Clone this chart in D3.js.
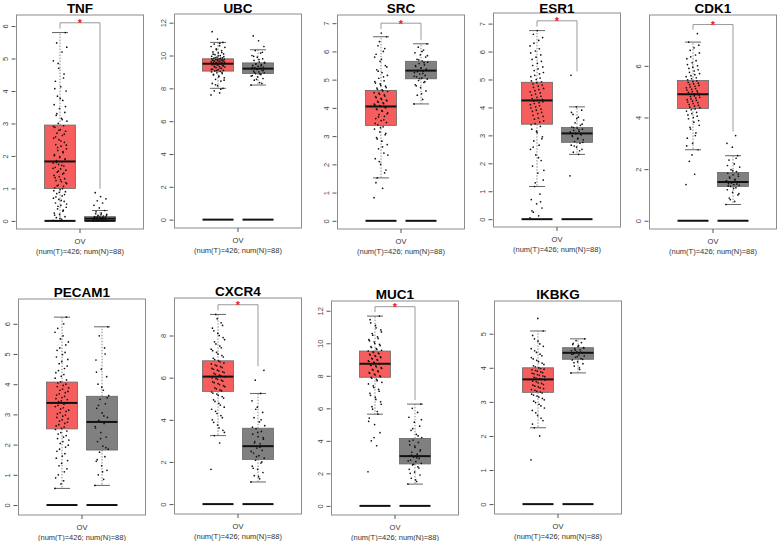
<!DOCTYPE html>
<html>
<head>
<meta charset="utf-8">
<script src="https://cdn.jsdelivr.net/npm/d3@7"></script>
<style>
  body { margin: 0; background: #fff; }
  svg { display: block; font-family: Arial, "Liberation Sans", sans-serif; }
</style>
</head>
<body>
<svg id="chart" width="778" height="541"></svg>
<script>
// --- DATA ---
const genes = ["TNF", "UBC", "SRC", "ESR1", "CDK1", "PECAM1", "CXCR4", "MUC1", "IKBKG"];
const cancer = "OV";
const sampleLabel = "(num(T)=426; num(N)=88)";

// [lower whisker, Q1, median, Q3, upper whisker]
const tumorBox = [
  [0, 1.0, 1.83, 2.95, 5.8],
  [8.0, 9.05, 9.5, 9.8, 10.8],
  [1.52, 3.38, 4.05, 4.62, 6.52],
  [1.17, 3.4, 4.25, 4.9, 6.75],
  [2.75, 4.35, 4.9, 5.43, 6.92],
  [0.55, 2.52, 3.38, 4.07, 6.22],
  [3.25, 5.35, 6.05, 6.8, 9.0],
  [5.64, 7.91, 8.74, 9.52, 11.67],
  [2.24, 3.28, 3.66, 4.0, 5.08]
];
const normalBox = [
  [0, 0.02, 0.07, 0.13, 0.32],
  [8.2, 8.9, 9.2, 9.55, 10.35],
  [4.14, 5.03, 5.32, 5.65, 6.27],
  [2.32, 2.75, 3.07, 3.28, 4.02],
  [0.63, 1.33, 1.5, 1.87, 2.52],
  [0.65, 1.82, 2.75, 3.6, 5.9],
  [1.05, 2.12, 2.75, 3.6, 5.25],
  [1.34, 2.58, 3.06, 4.15, 6.26],
  [3.85, 4.25, 4.44, 4.59, 4.85]
];

// sample values
const tumorTNF = [0.02, 0.05, 0.1, 0.13, 0.2, 0.24, 0.3, 0.37, 0.42, 0.48, 0.55, 0.6, 0.66, 0.7, 0.77, 0.84, 0.9, 0.96,
  1.02, 1.06, 1.1, 1.15, 1.21, 1.24, 1.3, 1.36, 1.4, 1.44, 1.5, 1.56, 1.6, 1.65, 1.69, 1.74, 1.78, 1.82,
  1.86, 1.91, 1.98, 2.04, 2.1, 2.17, 2.22, 2.3, 2.35, 2.42, 2.5, 2.55, 2.63, 2.7, 2.76, 2.81, 2.88, 2.93,
  3.0, 3.07, 3.16, 3.25, 3.34, 3.46, 3.58, 3.71, 3.84, 4.0, 4.13, 4.3, 4.52, 4.7, 4.93, 5.2, 5.48, 5.8,
  0.08, 0.18, 0.33, 0.45, 0.52, 0.63, 0.74, 0.81, 0.88, 0.93, 0.99, 1.08, 1.18, 1.27, 1.33, 1.47, 1.53, 1.62,
  1.71, 1.8, 1.89, 1.95, 2.01, 2.13, 2.26, 2.33, 2.46, 2.59, 2.67, 2.79, 2.91, 3.12, 3.3, 3.52, 3.77, 4.07, 4.4, 4.85, 5.35];
const normalTNF = [0.0, 0.01, 0.01, 0.02, 0.02, 0.03, 0.04, 0.05, 0.05, 0.06, 0.07, 0.07, 0.08, 0.09, 0.1, 0.11,
  0.12, 0.12, 0.13, 0.15, 0.17, 0.2, 0.24, 0.28, 0.32, 0.4, 0.48, 0.55, 0.62, 0.68, 0.75, 0.87,
  0.0, 0.01, 0.03, 0.04, 0.06, 0.08, 0.09, 0.1, 0.11, 0.14, 0.16, 0.19, 0.22];

const tumorUBC = [7.6, 7.72, 7.85, 8.0, 8.16, 8.3, 8.44, 8.55, 8.64, 8.74, 8.82, 8.9, 8.95, 9.0, 9.03, 9.06, 9.1, 9.14,
  9.18, 9.22, 9.26, 9.3, 9.33, 9.36, 9.39, 9.42, 9.45, 9.47, 9.49, 9.51, 9.53, 9.55, 9.57, 9.59, 9.61, 9.63,
  9.65, 9.67, 9.69, 9.71, 9.73, 9.75, 9.77, 9.79, 9.82, 9.86, 9.9, 9.95, 10.0, 10.05, 10.1, 10.16, 10.22, 10.3,
  10.4, 10.5, 10.6, 10.7, 10.8, 11.0, 11.45,
  7.95, 8.22, 8.5, 8.7, 8.86, 8.98, 9.08, 9.16, 9.24, 9.31, 9.37, 9.43, 9.48, 9.52, 9.56, 9.6, 9.64, 9.68,
  9.72, 9.76, 9.8, 9.84, 9.88, 9.93, 9.98, 10.08, 10.19, 10.35, 10.55, 10.75];
const normalUBC = [8.2, 8.35, 8.5, 8.6, 8.7, 8.78, 8.85, 8.9, 8.95, 9.0, 9.05, 9.1, 9.15, 9.2, 9.22, 9.26,
  9.3, 9.35, 9.4, 9.45, 9.5, 9.55, 9.6, 9.7, 9.8, 9.9, 10.0, 10.15, 10.3, 10.55, 10.9, 11.2,
  8.3, 8.55, 8.75, 8.88, 8.97, 9.08, 9.18, 9.28, 9.38, 9.48, 9.58, 9.75, 9.95, 10.2];

const tumorSRC = [0.82, 1.15, 1.52, 1.8, 2.0, 2.2, 2.4, 2.55, 2.7, 2.82, 2.95, 3.05, 3.15, 3.25, 3.33, 3.4, 3.48, 3.55,
  3.62, 3.7, 3.76, 3.82, 3.88, 3.94, 4.0, 4.05, 4.1, 4.15, 4.2, 4.25, 4.3, 4.36, 4.42, 4.48, 4.54, 4.6,
  4.66, 4.72, 4.8, 4.88, 4.96, 5.05, 5.15, 5.25, 5.35, 5.5, 5.65, 5.8, 6.0, 6.2, 6.52, 6.65,
  1.35, 1.7, 2.1, 2.33, 2.62, 2.9, 3.1, 3.3, 3.45, 3.58, 3.68, 3.79, 3.9, 3.97, 4.03, 4.08, 4.13, 4.18,
  4.23, 4.28, 4.34, 4.4, 4.46, 4.52, 4.58, 4.64, 4.7, 4.77, 4.85, 4.93, 5.1, 5.3, 5.45, 5.72, 5.9, 6.1, 6.35];
const normalSRC = [4.14, 4.3, 4.45, 4.6, 4.72, 4.82, 4.9, 4.97, 5.02, 5.06, 5.1, 5.15, 5.2, 5.25, 5.3, 5.33,
  5.37, 5.42, 5.47, 5.52, 5.57, 5.62, 5.66, 5.72, 5.8, 5.88, 5.95, 6.05, 6.15, 6.27,
  4.5, 4.78, 4.93, 5.04, 5.12, 5.22, 5.28, 5.35, 5.4, 5.5, 5.6, 5.7, 5.85, 6.0];

const tumorESR1 = [0.05, 0.12, 0.25, 0.4, 0.55, 0.7, 0.9, 1.17, 1.4, 1.65, 1.9, 2.1, 2.3, 2.5, 2.65, 2.8, 2.95, 3.1,
  3.22, 3.32, 3.42, 3.52, 3.62, 3.72, 3.82, 3.9, 3.98, 4.06, 4.14, 4.2, 4.26, 4.32, 4.4, 4.48, 4.56, 4.64,
  4.72, 4.8, 4.88, 4.95, 5.05, 5.15, 5.25, 5.38, 5.5, 5.65, 5.8, 5.95, 6.1, 6.3, 6.5, 6.75,
  0.3, 0.62, 1.3, 1.75, 2.2, 2.58, 2.88, 3.15, 3.38, 3.48, 3.58, 3.68, 3.78, 3.86, 3.94, 4.02, 4.1, 4.17,
  4.23, 4.29, 4.36, 4.44, 4.52, 4.6, 4.68, 4.76, 4.84, 4.92, 5.0, 5.1, 5.2, 5.32, 5.45, 5.58, 5.72, 5.88,
  6.02, 6.2, 6.4, 6.62];
const normalESR1 = [1.55, 2.32, 2.4, 2.5, 2.58, 2.65, 2.72, 2.78, 2.84, 2.9, 2.96, 3.02, 3.06, 3.1, 3.14, 3.18,
  3.22, 3.26, 3.3, 3.36, 3.45, 3.55, 3.65, 3.75, 3.9, 4.02, 5.15,
  2.45, 2.62, 2.75, 2.87, 2.99, 3.04, 3.08, 3.12, 3.2, 3.28, 3.4, 3.6, 3.82];

const tumorCDK1 = [1.4, 1.8, 2.3, 2.75, 3.0, 3.2, 3.4, 3.55, 3.7, 3.82, 3.95, 4.05, 4.15, 4.25, 4.33, 4.4, 4.47, 4.54,
  4.6, 4.66, 4.72, 4.78, 4.84, 4.9, 4.95, 5.0, 5.06, 5.12, 5.18, 5.24, 5.3, 5.36, 5.42, 5.5, 5.58, 5.66,
  5.75, 5.85, 5.95, 6.05, 6.2, 6.35, 6.5, 6.7, 6.92, 7.25,
  2.55, 2.9, 3.3, 3.62, 3.88, 4.0, 4.1, 4.2, 4.3, 4.38, 4.44, 4.5, 4.57, 4.63, 4.69, 4.75, 4.81, 4.87,
  4.92, 4.97, 5.03, 5.09, 5.15, 5.21, 5.27, 5.33, 5.39, 5.46, 5.54, 5.62, 5.7, 5.8, 5.9, 6.0, 6.12, 6.28,
  6.42, 6.6, 6.8];
const normalCDK1 = [0.63, 0.75, 0.88, 1.0, 1.1, 1.2, 1.28, 1.33, 1.37, 1.4, 1.44, 1.48, 1.51, 1.55, 1.6, 1.66,
  1.72, 1.78, 1.84, 1.9, 1.98, 2.08, 2.2, 2.35, 2.52, 2.85, 3.0, 3.3,
  0.82, 1.05, 1.25, 1.35, 1.42, 1.46, 1.53, 1.58, 1.69, 1.81, 1.94, 2.14, 2.42];

const tumorPECAM1 = [0.55, 0.8, 1.0, 1.2, 1.38, 1.55, 1.7, 1.85, 1.98, 2.1, 2.2, 2.3, 2.4, 2.5, 2.58, 2.66, 2.74, 2.82,
  2.9, 2.98, 3.06, 3.14, 3.22, 3.3, 3.38, 3.45, 3.52, 3.6, 3.68, 3.76, 3.84, 3.92, 4.0, 4.08, 4.2, 4.32,
  4.45, 4.6, 4.75, 4.9, 5.05, 5.2, 5.4, 5.6, 5.85, 6.22,
  0.7, 0.9, 1.1, 1.3, 1.47, 1.62, 1.78, 1.92, 2.04, 2.15, 2.25, 2.35, 2.45, 2.54, 2.62, 2.7, 2.78, 2.86,
  2.94, 3.02, 3.1, 3.18, 3.26, 3.34, 3.42, 3.49, 3.56, 3.64, 3.72, 3.8, 3.88, 3.96, 4.04, 4.14, 4.26, 4.38,
  4.52, 4.68, 4.82, 4.98, 5.12, 5.3, 5.5, 5.72, 6.0];
const normalPECAM1 = [0.65, 0.85, 1.0, 1.15, 1.3, 1.45, 1.6, 1.75, 1.85, 1.95, 2.1, 2.25, 2.4, 2.55, 2.7, 2.8,
  2.9, 3.05, 3.2, 3.35, 3.5, 3.62, 3.8, 4.0, 4.25, 4.5, 4.8, 5.2, 5.6, 5.9,
  1.1, 1.5, 1.9, 2.2, 2.6, 2.95, 3.3, 3.55, 3.9, 4.4, 5.0];

const tumorCXCR4 = [1.65, 2.9, 3.25, 3.5, 3.75, 4.0, 4.2, 4.4, 4.6, 4.78, 4.95, 5.1, 5.22, 5.32, 5.42, 5.52, 5.62, 5.72,
  5.8, 5.88, 5.96, 6.04, 6.12, 6.2, 6.28, 6.36, 6.44, 6.52, 6.6, 6.7, 6.8, 6.92, 7.05, 7.2, 7.35, 7.5,
  7.7, 7.9, 8.1, 8.35, 8.6, 9.0,
  3.4, 3.62, 3.88, 4.1, 4.3, 4.5, 4.7, 4.87, 5.03, 5.16, 5.27, 5.37, 5.47, 5.57, 5.67, 5.76, 5.84, 5.92,
  6.0, 6.08, 6.16, 6.24, 6.32, 6.4, 6.48, 6.56, 6.65, 6.75, 6.86, 6.98, 7.12, 7.28, 7.42, 7.6, 7.8, 8.0,
  8.22, 8.48, 8.8];
const normalCXCR4 = [1.05, 1.2, 1.35, 1.5, 1.65, 1.8, 1.95, 2.08, 2.18, 2.3, 2.42, 2.55, 2.66, 2.76, 2.86, 2.96,
  3.08, 3.2, 3.32, 3.45, 3.58, 3.72, 3.9, 4.1, 4.35, 4.6, 4.9, 5.25, 5.88, 6.35,
  1.3, 1.7, 2.0, 2.25, 2.5, 2.7, 2.9, 3.15, 3.4, 3.65, 4.0, 4.5];

const tumorMUC1 = [2.1, 3.7, 4.0, 4.5, 5.0, 5.4, 5.64, 5.95, 6.25, 6.55, 6.8, 7.05, 7.28, 7.5, 7.7, 7.85, 7.95, 8.05,
  8.15, 8.25, 8.35, 8.45, 8.55, 8.64, 8.72, 8.8, 8.88, 8.96, 9.04, 9.12, 9.2, 9.28, 9.36, 9.44, 9.52, 9.62,
  9.74, 9.86, 10.0, 10.15, 10.3, 10.5, 10.7, 10.95, 11.25, 11.67,
  4.2, 5.2, 5.8, 6.1, 6.4, 6.68, 6.92, 7.16, 7.38, 7.6, 7.78, 7.9, 8.0, 8.1, 8.2, 8.3, 8.4, 8.5,
  8.6, 8.68, 8.76, 8.84, 8.92, 9.0, 9.08, 9.16, 9.24, 9.32, 9.4, 9.48, 9.57, 9.68, 9.8, 9.93, 10.08, 10.22,
  10.4, 10.6, 10.82, 11.1, 11.45];
const normalMUC1 = [1.34, 1.5, 1.7, 1.9, 2.08, 2.25, 2.4, 2.52, 2.62, 2.72, 2.82, 2.92, 3.0, 3.08, 3.18, 3.3,
  3.45, 3.6, 3.75, 3.9, 4.05, 4.2, 4.4, 4.65, 4.9, 5.15, 5.45, 5.75, 6.0, 6.26,
  1.6, 2.0, 2.33, 2.56, 2.77, 2.96, 3.12, 3.38, 3.68, 3.98, 4.3, 4.75, 5.3];

const tumorIKBKG = [1.3, 2.0, 2.24, 2.45, 2.6, 2.75, 2.88, 2.98, 3.06, 3.14, 3.2, 3.26, 3.31, 3.36, 3.41, 3.46, 3.51, 3.56,
  3.61, 3.66, 3.7, 3.74, 3.78, 3.82, 3.86, 3.9, 3.94, 3.98, 4.03, 4.1, 4.18, 4.26, 4.35, 4.45, 4.56, 4.7,
  4.85, 5.08, 5.45,
  2.35, 2.52, 2.68, 2.82, 2.93, 3.02, 3.1, 3.17, 3.23, 3.29, 3.34, 3.39, 3.44, 3.49, 3.54, 3.59, 3.64, 3.68,
  3.72, 3.76, 3.8, 3.84, 3.88, 3.92, 3.96, 4.0, 4.06, 4.14, 4.22, 4.3, 4.4, 4.5, 4.63, 4.78, 4.95];
const normalIKBKG = [3.85, 3.95, 4.05, 4.12, 4.18, 4.23, 4.27, 4.31, 4.35, 4.38, 4.41, 4.44, 4.47, 4.5, 4.53, 4.56,
  4.59, 4.63, 4.68, 4.74, 4.8, 4.85,
  4.0, 4.15, 4.25, 4.33, 4.4, 4.46, 4.52, 4.58, 4.65, 4.72];

const tumorPts = [tumorTNF, tumorUBC, tumorSRC, tumorESR1, tumorCDK1, tumorPECAM1, tumorCXCR4, tumorMUC1, tumorIKBKG];
const normalPts = [normalTNF, normalUBC, normalSRC, normalESR1, normalCDK1, normalPECAM1, normalCXCR4, normalMUC1, normalIKBKG];

// axis range and ticks per gene
const yLo = [-0.25, -0.51, -0.29, -0.28, -0.32, -0.33, -0.47, -0.56, -0.29];
const yHi = [6.34, 12.53, 7.29, 7.38, 7.97, 6.82, 9.78, 12.6, 5.96];
const yTicks = [
  [0, 1, 2, 3, 4, 5, 6],
  [0, 2, 4, 6, 8, 10, 12],
  [0, 1, 2, 3, 4, 5, 6, 7],
  [0, 1, 2, 3, 4, 5, 6, 7],
  [0, 2, 4, 6],
  [0, 1, 2, 3, 4, 5, 6],
  [0, 2, 4, 6, 8],
  [0, 2, 4, 6, 8, 10, 12],
  [0, 1, 2, 3, 4, 5]
];
// significance bracket height (null = not significant)
const bracketAt = [6.1, null, 7.0, 7.1, 7.6, null, 9.46, 12.25, null];

// --- LAYOUT (pixels) ---
const panels = [
  { cx: 80, top: 15, bottom: 229 },
  { cx: 238, top: 14, bottom: 228 },
  { cx: 401, top: 15, bottom: 229 },
  { cx: 557, top: 13, bottom: 227 },
  { cx: 713, top: 15, bottom: 229 },
  { cx: 82, top: 299, bottom: 515 },
  { cx: 238, top: 298, bottom: 514 },
  { cx: 395, top: 301, bottom: 515 },
  { cx: 558, top: 301, bottom: 514 }
];
const halfW = 63.5, boxW = 31, capW = 16, jitter = 7;
const tumorColor = "#f65d5d", normalColor = "#808080";

const svg = d3.select("#chart");

function drawPanel(i) {
  const p = panels[i];
  const g = svg.append("g");
  const left = p.cx - halfW, right = p.cx + halfW;

  const y = d3.scaleLinear().domain([yLo[i], yHi[i]]).range([p.bottom, p.top]);
  const x = d3.scalePoint().domain(["T", "N"]).range([p.cx - 20, p.cx + 20]);

  // frame
  g.append("rect")
    .attr("x", left).attr("y", p.top)
    .attr("width", right - left).attr("height", p.bottom - p.top)
    .attr("fill", "none").attr("stroke", "#8c8c8c").attr("stroke-width", 1);

  // title (kept inside the page at the top)
  g.append("text")
    .attr("x", p.cx).attr("y", Math.max(p.top - 2, 12.5))
    .attr("text-anchor", "middle")
    .attr("font-size", 13.5).attr("font-weight", "bold")
    .text(genes[i]);

  // y axis
  const yAxis = g.append("g")
    .attr("transform", `translate(${left - 1},0)`)
    .call(d3.axisLeft(y).tickValues(yTicks[i]).tickSize(4).tickPadding(3).tickFormat(d3.format("d")));
  yAxis.select(".domain").remove();
  yAxis.selectAll("line").attr("stroke", "#555");
  yAxis.selectAll("text")
    .attr("font-size", 7.5).attr("fill", "#444")
    .attr("text-anchor", "middle")
    .attr("dy", null).attr("x", null)
    .attr("transform", "translate(-9,0) rotate(-90)")
    .attr("dominant-baseline", "middle");

  // x axis: one tick + labels
  g.append("line")
    .attr("x1", p.cx).attr("x2", p.cx)
    .attr("y1", p.bottom).attr("y2", p.bottom + 4)
    .attr("stroke", "#555");
  g.append("text")
    .attr("x", p.cx).attr("y", p.bottom + 14.5)
    .attr("text-anchor", "middle").attr("font-size", 7.5).attr("fill", "#333")
    .text(cancer);
  g.append("text")
    .attr("x", p.cx).attr("y", p.bottom + 24.5)
    .attr("text-anchor", "middle").attr("font-size", 7.5).attr("fill", "#333")
    .text(sampleLabel);

  const groups = [
    { key: "T", box: tumorBox[i], pts: tumorPts[i], fill: tumorColor },
    { key: "N", box: normalBox[i], pts: normalPts[i], fill: normalColor }
  ];

  groups.forEach(gr => {
    const cx = x(gr.key);
    const [lo, q1, med, q3, hi] = gr.box;

    // whiskers
    g.append("line").attr("x1", cx).attr("x2", cx).attr("y1", y(q3)).attr("y2", y(hi))
      .attr("stroke", "#888").attr("stroke-dasharray", "1.5,1.5");
    g.append("line").attr("x1", cx).attr("x2", cx).attr("y1", y(q1)).attr("y2", y(lo))
      .attr("stroke", "#888").attr("stroke-dasharray", "1.5,1.5");
    [lo, hi].forEach(v => {
      g.append("line").attr("x1", cx - capW / 2).attr("x2", cx + capW / 2)
        .attr("y1", y(v)).attr("y2", y(v)).attr("stroke", "#666");
    });

    // box
    g.append("rect")
      .attr("x", cx - boxW / 2).attr("y", y(q3))
      .attr("width", boxW).attr("height", y(q1) - y(q3))
      .attr("fill", gr.fill).attr("stroke", "#666").attr("stroke-width", 0.8);
    g.append("line").attr("x1", cx - boxW / 2).attr("x2", cx + boxW / 2)
      .attr("y1", y(med)).attr("y2", y(med))
      .attr("stroke", "#111").attr("stroke-width", 2);

    // zero line
    g.append("line").attr("x1", cx - boxW / 2).attr("x2", cx + boxW / 2)
      .attr("y1", y(0)).attr("y2", y(0))
      .attr("stroke", "#111").attr("stroke-width", 2);

    // jittered points
    g.append("g").selectAll("circle")
      .data(gr.pts)
      .enter().append("circle")
      .attr("cx", (d, k) => cx + (((k * 0.618034) % 1) - 0.5) * 2 * jitter)
      .attr("cy", d => y(d))
      .attr("r", 0.85)
      .attr("fill", "#111");
  });

  // significance bracket
  if (bracketAt[i] !== null) {
    const by = y(bracketAt[i]);
    const tx = x("T"), nx = x("N");
    const tEnd = y(d3.max(tumorPts[i])) - 4;
    const nEnd = y(d3.max(normalPts[i])) - 4;
    g.append("path")
      .attr("d", `M${tx},${tEnd}V${by}H${nx}V${nEnd}`)
      .attr("fill", "none").attr("stroke", "#999").attr("stroke-width", 1);
    g.append("text")
      .attr("x", (tx + nx) / 2).attr("y", by + 4.5)
      .attr("text-anchor", "middle")
      .attr("font-size", 11).attr("font-weight", "bold").attr("fill", "#e8202a")
      .text("*");
  }
}

genes.forEach((d, i) => drawPanel(i));
</script>
</body>
</html>
